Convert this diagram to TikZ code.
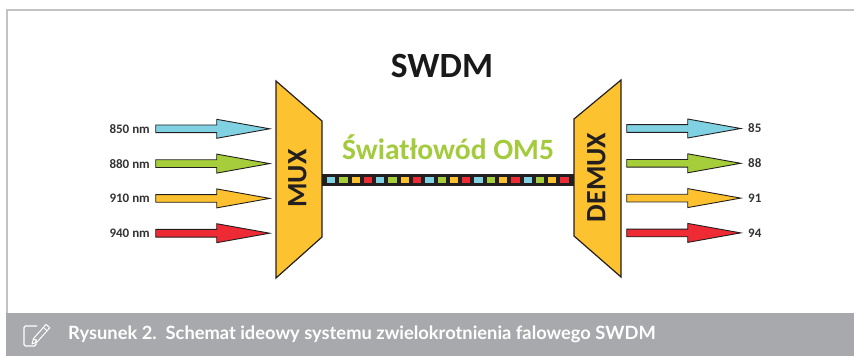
\documentclass[tikz,border=0pt]{standalone}
\usepackage{fontspec}
\setmainfont{Carlito}
\newfontfamily\captionfont{Lato}

\definecolor{sigcyan}{HTML}{80D2E2}
\definecolor{siggreen}{HTML}{A6CE3A}
\definecolor{sigyellow}{HTML}{FDC02E}
\definecolor{sigred}{HTML}{EE2A35}
\definecolor{muxfill}{HTML}{FDC22F}
\definecolor{edge}{HTML}{231F20}
\definecolor{fibretext}{HTML}{A4CB3E}
\definecolor{labeltext}{HTML}{333333}
\definecolor{framegray}{HTML}{C3C3C3}
\definecolor{bargray}{HTML}{A7A9AC}

\tikzset{
  % wide signal arrow, drawn from its tail (0,0) to its tip
  fatarrow/.pic={
    \path[pic actions] (0,-3.85) -- (61,-3.85) -- (61,-9.5) -- (114,0)
      -- (61,9.5) -- (61,3.85) -- (0,3.85) -- cycle;
  },
  sigarrow/.style={draw=edge, line width=0.9pt, line join=miter},
  wavelabel/.style={font=\bfseries\fontsize{13}{13}\selectfont, text=labeltext, inner sep=0pt},
  boxlabel/.style={font=\bfseries\fontsize{28}{28}\selectfont, text=edge, rotate=90, inner sep=0pt},
  muxbody/.style={draw=edge, fill=muxfill, line width=1.2pt, line join=miter},
  fibrebit/.style={minimum width=8.3pt, minimum height=6.8pt, inner sep=0pt, draw=none}
}

\begin{document}
\begin{tikzpicture}[x=1pt, y=-1pt]
  \useasboundingbox (0,0) rectangle (854,356);

  % frame and caption bar
  \draw[framegray, line width=2pt] (7,313) -- (7,10) -- (860,10);
  \fill[bargray] (6,313) rectangle (860,356);

  % caption icon: sheet with a pencil
  \draw[white, line width=1.3pt, rounded corners=1.5pt]
    (37,326) -- (24,326) -- (24,346) -- (36,346) -- (36,339);
  \draw[white, line width=1pt, line join=round]
    (32,344) -- (37.19,341.92) -- (49.81,327.73) -- (46.07,324.41) -- (33.45,338.60) -- cycle;
  \draw[white, line width=0.8pt] (37.19,341.92) -- (33.45,338.60)
    (47.15,330.72) -- (43.41,327.40);
  \node[anchor=base west, inner sep=0pt, text=white,
        font=\captionfont\bfseries\fontsize{18.3}{18.3}\selectfont]
    (caption) at (68,339.3) {Rysunek 2.\ \ Schemat ideowy systemu zwielokrotnienia falowego SWDM};

  % title
  \node[anchor=base, inner sep=0pt, font=\bfseries\fontsize{35.5}{35.5}\selectfont, text=black!90]
    (title) at (442,77) {SWDM};

  % multiplexer and demultiplexer
  \draw[muxbody] (276,81) -- (322,121) -- (322,237) -- (276,278) -- cycle;
  \draw[muxbody] (621,80) -- (574,119) -- (574,236) -- (621,277) -- cycle;
  \node[boxlabel] (mux) at (297.5,178.5) {MUX};
  \node[boxlabel] (demux) at (596.5,177.5) {DEMUX};
  \coordinate (muxout) at (322,180);
  \coordinate (demuxin) at (574,180);

  % fibre link
  \fill[edge] ([yshift=-5.7]muxout) rectangle ([yshift=5.7]demuxin);
  \foreach \i in {0,...,19} {
    \pgfmathtruncatemacro{\k}{mod(\i,4)}
    \ifcase\k \def\bitcol{sigcyan}\or \def\bitcol{siggreen}\or \def\bitcol{sigyellow}\or \def\bitcol{sigred}\fi
    \node[fibrebit, fill=\bitcol] (bit\i) at (331.2+12.28*\i,180) {};
  }
  \node[anchor=base, inner sep=0pt, font=\bfseries\fontsize{29.5}{29.5}\selectfont, text=fibretext]
    (fibre) at (448,159.3) {Światłowód OM5};

  % input channels
  \pic[sigarrow, fill=sigcyan]   at (155.7,128.8) {fatarrow};
  \pic[sigarrow, fill=siggreen]  at (155.7,163.6) {fatarrow};
  \pic[sigarrow, fill=sigyellow] at (155.7,198.4) {fatarrow};
  \pic[sigarrow, fill=sigred]    at (155.7,233.2) {fatarrow};
  \node[wavelabel, anchor=east] (in1) at (150,128.8) {850 nm};
  \node[wavelabel, anchor=east] (in2) at (150,163.6) {880 nm};
  \node[wavelabel, anchor=east] (in3) at (150,198.4) {910 nm};
  \node[wavelabel, anchor=east] (in4) at (150,233.2) {940 nm};

  % output channels
  \pic[sigarrow, fill=sigcyan]   at (626.7,128.5) {fatarrow};
  \pic[sigarrow, fill=siggreen]  at (626.7,163.3) {fatarrow};
  \pic[sigarrow, fill=sigyellow] at (626.7,198.1) {fatarrow};
  \pic[sigarrow, fill=sigred]    at (626.7,232.9) {fatarrow};
  \node[wavelabel, anchor=west] (out1) at (748,128.5) {85};
  \node[wavelabel, anchor=west] (out2) at (748,163.3) {88};
  \node[wavelabel, anchor=west] (out3) at (748,198.1) {91};
  \node[wavelabel, anchor=west] (out4) at (748,232.9) {94};
\end{tikzpicture}
\end{document}
